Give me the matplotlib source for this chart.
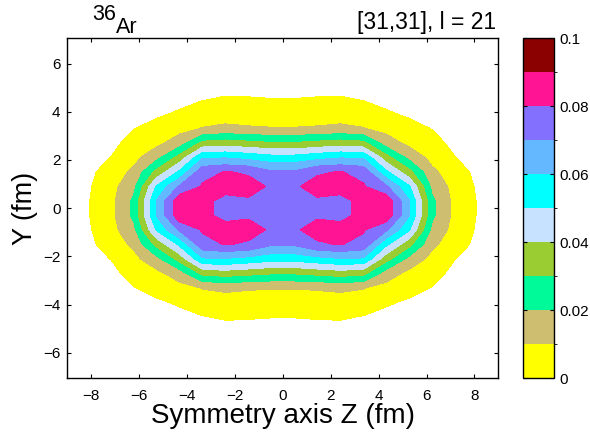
import numpy as np
import matplotlib
matplotlib.use("Agg")
import matplotlib.pyplot as plt
from matplotlib.colors import ListedColormap, BoundaryNorm
from matplotlib.cm import ScalarMappable

plt.rcParams['font.family'] = ['Liberation Sans', 'DejaVu Sans']

# grid nodes of one quadrant (z >= 0, y >= 0), in fm; the density is mirrored
z_half = [0.48, 1.44, 2.40, 3.36, 4.32, 5.28, 6.24, 7.20, 8.16, 9.12]
y_half = [0.3, 0.9, 1.5, 2.1, 2.7, 3.3, 3.9, 4.5, 5.1]

# density, one row per y_half value, columns follow z_half
dens_y03 = [0.076, 0.079, 0.077, 0.083, 0.087, 0.0605, 0.022, 0.007, 0.0015, 0.0]
dens_y09 = [0.079, 0.083, 0.084, 0.081, 0.0715, 0.051, 0.017, 0.0065, 0.001, 0.0]
dens_y15 = [0.0715, 0.079, 0.0805, 0.077, 0.052, 0.033, 0.012, 0.0045, 0.0005, 0.0]
dens_y21 = [0.054, 0.057, 0.0595, 0.059, 0.034, 0.017, 0.007, 0.0021, 0.0, 0.0]
dens_y27 = [0.031, 0.033, 0.035, 0.033, 0.015, 0.0075, 0.0045, 0.0, 0.0, 0.0]
dens_y33 = [0.0105, 0.011, 0.012, 0.0105, 0.007, 0.0045, 0.0018, 0.0, 0.0, 0.0]
dens_y39 = [0.0055, 0.0058, 0.006, 0.0055, 0.003, 0.001, 0.0, 0.0, 0.0, 0.0]
dens_y45 = [0.0022, 0.0025, 0.0027, 0.0018, 0.0, 0.0, 0.0, 0.0, 0.0, 0.0]
dens_y51 = [0.0, 0.0, 0.0, 0.0, 0.0, 0.0, 0.0, 0.0, 0.0, 0.0]

levels = [0.002, 0.01, 0.02, 0.03, 0.04, 0.05, 0.06, 0.07, 0.08, 0.09, 0.1]
cbar_bounds = [0, 0.01, 0.02, 0.03, 0.04, 0.05, 0.06, 0.07, 0.08, 0.09, 0.1]
cbar_ticks = [0, 0.02, 0.04, 0.06, 0.08, 0.1]
cbar_labels = ['0', '0.02', '0.04', '0.06', '0.08', '0.1']
band_colors = ['#FFFF00', '#CDBE70', '#00FA9A', '#9ACD32', '#C6E2FF',
               '#00FFFF', '#63B8FF', '#8470FF', '#FF1493', '#8B0000']

quad = np.array([dens_y03, dens_y09, dens_y15, dens_y21, dens_y27,
                 dens_y33, dens_y39, dens_y45, dens_y51])
dens = np.vstack([quad[::-1], quad])
dens = np.hstack([dens[:, ::-1], dens])
zz = np.concatenate([-np.array(z_half)[::-1], z_half])
yy = np.concatenate([-np.array(y_half)[::-1], y_half])

fig = plt.figure(figsize=(5.9, 4.37), dpi=100)
ax = fig.add_axes([0.1144, 0.135, 0.7302, 0.7773])

ax.contourf(zz, yy, dens, levels=levels, colors=band_colors)

ax.set_xlim(-9, 9)
ax.set_ylim(-7.05, 7.05)
ax.set_xticks([-8, -6, -4, -2, 0, 2, 4, 6, 8])
ax.set_yticks([-6, -4, -2, 0, 2, 4, 6])
ax.tick_params(direction='in', length=3, width=0.8, top=True, right=True,
               labelsize=11, pad=5)
ax.tick_params(axis='x', pad=8)
for sp in ax.spines.values():
    sp.set_linewidth(1.0)

ax.set_xlabel('Symmetry axis Z (fm)', fontsize=20, labelpad=0)
ax.set_ylabel('Y (fm)', fontsize=19.5, labelpad=4)

fig.text(92 / 590, 1 - 20 / 437, '36', fontsize=15.5, va='baseline', ha='left')
fig.text(116 / 590, 1 - 33 / 437, 'Ar', fontsize=15.5, va='baseline', ha='left')
fig.text(496 / 590, 1 - 29 / 437, '[31,31], l = 21', fontsize=16.5,
         va='baseline', ha='right')

# colorbar
cax = fig.add_axes([523.3 / 590, 0.135, 31 / 590, 0.7773])
cmap = ListedColormap(band_colors)
norm = BoundaryNorm(cbar_bounds, cmap.N)
cb = fig.colorbar(ScalarMappable(norm=norm, cmap=cmap), cax=cax,
                  ticks=cbar_ticks, drawedges=False)
cb.ax.set_yticklabels(cbar_labels)
cb.ax.tick_params(direction='in', length=3, width=0.8, labelsize=11, pad=4,
                  left=True)
cb.outline.set_linewidth(1.0)

fig.savefig('out.png', dpi=100)
